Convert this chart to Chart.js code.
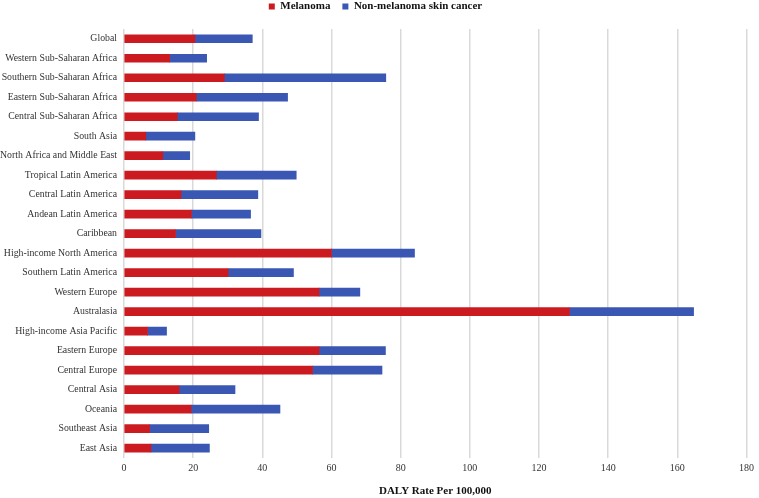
<!DOCTYPE html>
<html>
<head>
<meta charset="utf-8">
<script src="https://cdn.jsdelivr.net/npm/chart.js@4.4.1/dist/chart.umd.min.js"></script>
<style>
  html, body { margin: 0; padding: 0; background: #fff; }
  #wrap { width: 759px; height: 498px; }
</style>
</head>
<body>
<div id="wrap"><canvas id="chart"></canvas></div>
<script>
// regions, top to bottom as in the figure
const regions = [
  "Global",
  "Western Sub-Saharan Africa",
  "Southern Sub-Saharan Africa",
  "Eastern Sub-Saharan Africa",
  "Central Sub-Saharan Africa",
  "South Asia",
  "North Africa and Middle East",
  "Tropical Latin America",
  "Central Latin America",
  "Andean Latin America",
  "Caribbean",
  "High-income North America",
  "Southern Latin America",
  "Western Europe",
  "Australasia",
  "High-income Asia Pacific",
  "Eastern Europe",
  "Central Europe",
  "Central Asia",
  "Oceania",
  "Southeast Asia",
  "East Asia",
];

// DALY rate per 100,000
const melanoma = [
  20.5, 13.2, 29.0, 20.9, 15.4, 6.3, 11.2, 26.7, 16.5, 19.5, 14.9,
  60.0, 30.1, 56.4, 128.8, 6.8, 56.4, 54.5, 15.9, 19.4, 7.4, 7.8,
];
const nonMelanoma = [
  16.6, 10.7, 46.7, 26.4, 23.5, 14.2, 7.8, 23.1, 22.2, 17.1, 24.7,
  24.0, 18.9, 11.8, 35.9, 5.5, 19.2, 20.1, 16.2, 25.7, 17.1, 16.9,
];

const xTicks = [0, 20, 40, 60, 80, 100, 120, 140, 160, 180];

const serif = "'Liberation Serif', 'Times New Roman', serif";

// a bit more room under the legend
const legendGap = {
  id: "legendGap",
  beforeInit(chart) {
    const fit = chart.legend.fit;
    chart.legend.fit = function () {
      fit.bind(chart.legend)();
      this.height += 7;
    };
  },
};

new Chart(document.getElementById("chart"), {
  type: "bar",
  data: {
    labels: regions,
    datasets: [
      {
        label: "Melanoma",
        data: melanoma,
        backgroundColor: "#cc1b20",
        barThickness: 8,
      },
      {
        label: "Non-melanoma skin cancer",
        data: nonMelanoma,
        backgroundColor: "#3a57b3",
        barThickness: 8,
      },
    ],
  },
  options: {
    indexAxis: "y",
    responsive: true,
    maintainAspectRatio: false,
    animation: false,
    layout: { padding: { left: 0, right: 8, top: -11, bottom: 0 } },
    plugins: {
      legend: {
        position: "top",
        labels: {
          boxWidth: 6,
          boxHeight: 6,
          padding: 12,
          color: "#111",
          font: { family: serif, size: 11, weight: "bold" },
        },
      },
      tooltip: { enabled: false },
    },
    scales: {
      x: {
        stacked: true,
        min: 0,
        max: 180,
        afterBuildTicks: (scale) => {
          scale.ticks = xTicks.map((v) => ({ value: v }));
        },
        grid: { color: "#d9d9d9", lineWidth: 1.5, drawTicks: false },
        border: { display: false },
        ticks: {
          padding: 5,
          color: "#333",
          font: { family: serif, size: 10 },
        },
        title: {
          display: true,
          text: "DALY Rate Per 100,000",
          color: "#111",
          padding: { top: 5, bottom: 0 },
          font: { family: serif, size: 11, weight: "bold" },
        },
      },
      y: {
        stacked: true,
        grid: { display: false, drawTicks: false },
        border: { display: false },
        afterFit: (scale) => {
          scale.width = 124;
        },
        ticks: {
          padding: 7,
          color: "#333",
          font: { family: serif, size: 9.8 },
        },
      },
    },
  },
  plugins: [legendGap],
});
</script>
</body>
</html>
